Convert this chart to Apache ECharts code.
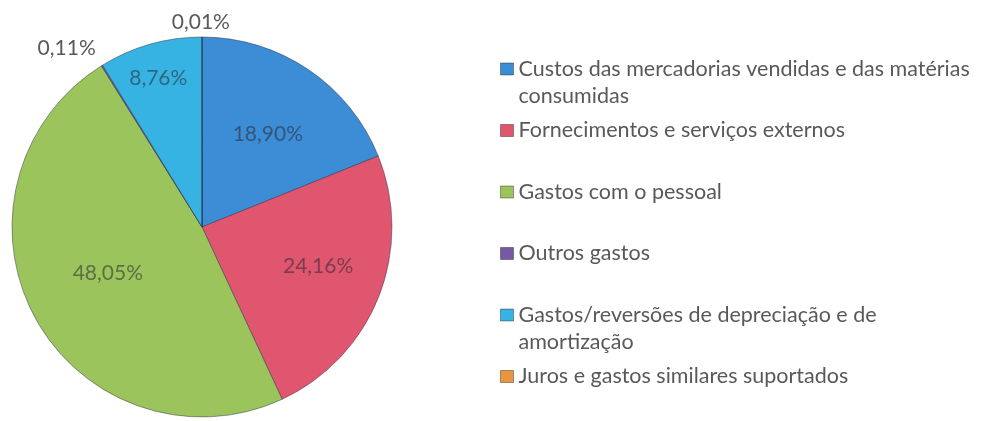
<!DOCTYPE html>
<html>
<head>
<meta charset="utf-8">
<script src="https://cdn.jsdelivr.net/npm/echarts@6/dist/echarts.min.js"></script>
<style>
  html, body { margin: 0; padding: 0; background: #fff; }
  #chart { width: 994px; height: 421px; }
</style>
</head>
<body>
<div id="chart"></div>
<script>
var categories = [
  "Custos das mercadorias vendidas e das matérias consumidas",
  "Fornecimentos e serviços externos",
  "Gastos com o pessoal",
  "Outros gastos",
  "Gastos/reversões de depreciação e de amortização",
  "Juros e gastos similares suportados"
];
var shares = [18.90, 24.16, 48.05, 0.11, 8.76, 0.01];

var colors = ["#3c8dd5", "#e0566f", "#9cc45c", "#7658a6", "#36b3e2", "#e8953e"];

// label placement tweaks (Excel "best fit" look)
var labelTweaks = [
  { position: "inside", offset: [11, -12] },
  { position: "inside", offset: [25, 3] },
  { position: "inside", offset: [-8, 0] },
  { position: "outside", offset: [3, -10], color: "#595959" },
  { position: "inside", offset: [-17, -54] },
  { position: "outside", offset: [33, -7], color: "#595959" }
];

// legend entries that fit on one line get a blank second line,
// so every slot is two lines tall and the text starts at the top
var legendOneLine = [false, true, true, true, false, true];

var fmt = function (v) {
  return v.toFixed(2).replace(".", ",") + "%";
};

// square icon sitting on the first text line of a 2-line slot
var legendIcon = "path://M0,0 M13,54 M0,7.5 L13,7.5 L13,19.5 L0,19.5 Z";

var chart = echarts.init(document.getElementById("chart"));

var pieData = [];
for (var i = 0; i < categories.length; i++) {
  pieData.push({
    name: categories[i],
    value: shares[i],
    label: labelTweaks[i],
    labelLine: { show: false, length: 8, length2: 0 }
  });
}

var option = {
  backgroundColor: "#ffffff",
  color: colors,
  animation: false,
  textStyle: { fontFamily: "Lato" },
  legend: {
    orient: "vertical",
    left: 500,
    top: 55,
    padding: 0,
    itemWidth: 13,
    itemHeight: 54,
    itemGap: 6.5,
    icon: legendIcon,
    selectedMode: false,
    data: categories,
    formatter: function (name) {
      return legendOneLine[categories.indexOf(name)] ? name + "\n\u00a0" : name;
    },
    itemStyle: { borderColor: "rgba(0,0,0,0.35)", borderWidth: 1 },
    textStyle: {
      fontFamily: "Lato",
      fontSize: 21.5,
      color: "#595959",
      lineHeight: 27,
      width: 470,
      overflow: "break"
    }
  },
  series: [
    {
      type: "pie",
      center: [202, 227],
      radius: 190,
      startAngle: 90,
      clockwise: true,
      avoidLabelOverlap: false,
      itemStyle: { borderColor: "rgba(40,40,60,0.45)", borderWidth: 1 },
      label: {
        fontFamily: "Lato",
        fontSize: 21,
        color: "rgba(40,40,50,0.55)",
        formatter: function (p) {
          return fmt(p.value);
        }
      },
      emphasis: { disabled: true },
      data: pieData
    }
  ]
};

chart.setOption(option);
</script>
</body>
</html>
